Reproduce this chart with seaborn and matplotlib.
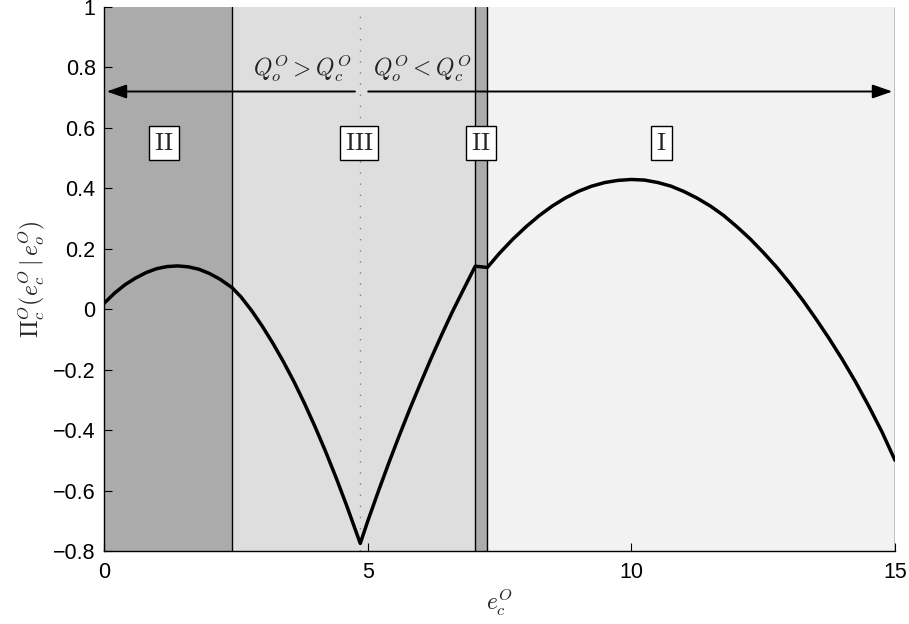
import matplotlib
matplotlib.use("Agg")
import matplotlib.pyplot as plt
import seaborn as sns
import pandas as pd

# ---- data ----
curve_x = [0.0, 0.2, 0.4, 0.6, 0.8, 1.0, 1.2, 1.4, 1.6, 1.8, 2.0, 2.2, 2.43,
           2.6, 2.8, 3.0, 3.2, 3.4, 3.6, 3.8, 4.0, 4.2, 4.4, 4.6, 4.86,
           5.0, 5.2, 5.4, 5.6, 5.8, 6.0, 6.2, 6.4, 6.6, 6.8, 7.04,
           7.27, 7.5, 7.75, 8.0, 8.25, 8.5, 8.75, 9.0, 9.25, 9.5, 9.75,
           10.0, 10.25, 10.5, 10.75, 11.0, 11.25, 11.5, 11.75, 12.0, 12.25,
           12.5, 12.75, 13.0, 13.25, 13.5, 13.75, 14.0, 14.25, 14.5, 14.75, 15.0]
curve_y = [0.019, 0.053, 0.081, 0.103, 0.121, 0.134, 0.141, 0.143, 0.140, 0.132, 0.118, 0.099, 0.071,
           0.040, -0.005, -0.056, -0.112, -0.173, -0.239, -0.311, -0.388, -0.470, -0.557, -0.649, -0.775,
           -0.702, -0.604, -0.509, -0.418, -0.330, -0.246, -0.164, -0.086, -0.011, 0.059, 0.142,
           0.138, 0.185, 0.231, 0.272, 0.309, 0.341, 0.368, 0.390, 0.407, 0.419, 0.426,
           0.429, 0.427, 0.419, 0.407, 0.389, 0.367, 0.341, 0.310, 0.273, 0.233,
           0.188, 0.140, 0.087, 0.030, -0.032, -0.097, -0.166, -0.240, -0.320, -0.405, -0.500]

region_edges = [0.0, 2.43, 7.04, 7.27, 15.0]
region_colors = ["#ababab", "#dedede", "#ababab", "#f2f2f2"]
region_labels = ["II", "III", "II", "I"]
label_x = [1.14, 4.84, 7.15, 10.57]
label_y = 0.55
split_x = 4.86
arrow_y = 0.72
x_ticks = [0, 5, 10, 15]
y_ticks = [-0.8, -0.6, -0.4, -0.2, 0, 0.2, 0.4, 0.6, 0.8, 1]
y_tick_labels = ["\u22120.8", "\u22120.6", "\u22120.4", "\u22120.2", "0",
                 "0.2", "0.4", "0.6", "0.8", "1"]

sns.set_theme(style="ticks")
plt.rcParams['font.family'] = ['Liberation Sans', 'DejaVu Sans']
plt.rcParams['mathtext.fontset'] = 'cm'

fig = plt.figure(figsize=(9.09, 6.24), dpi=100)
ax = fig.add_axes([0.1144, 0.117, 0.8702, 0.872])

for i, c in enumerate(region_colors):
    ax.axvspan(region_edges[i], region_edges[i + 1], color=c, lw=0, zorder=0)
for e in region_edges[1:]:
    ax.axvline(e, color="black", lw=1.0, zorder=1)

ax.axvline(split_x, color="#808080", lw=1.0, linestyle=(0, (1, 7)), zorder=1)

df = pd.DataFrame({"x": curve_x, "y": curve_y})
sns.lineplot(data=df, x="x", y="y", ax=ax, color="black", lw=2.5,
             sort=False, zorder=3)

arrowprops = dict(arrowstyle="-|>,head_length=1.0,head_width=0.35",
                  color="black", lw=1.4, shrinkA=0, shrinkB=0)
ax.annotate("", xy=(0.05, arrow_y), xytext=(split_x - 0.1, arrow_y),
            arrowprops=arrowprops, zorder=4)
ax.annotate("", xy=(14.95, arrow_y), xytext=(split_x + 0.15, arrow_y),
            arrowprops=arrowprops, zorder=4)

ax.text(3.76, 0.797, r"$Q_o^O > Q_c^O$", ha="center", va="center",
        fontsize=17, color="#222222", zorder=4)
ax.text(6.03, 0.797, r"$Q_o^O < Q_c^O$", ha="center", va="center",
        fontsize=17, color="#222222", zorder=4)

for lx, lab in zip(label_x, region_labels):
    ax.text(lx, label_y, r"$\mathrm{%s}$" % lab, ha="center", va="center",
            fontsize=18, zorder=5,
            bbox=dict(boxstyle="square,pad=0.2", fc="white", ec="black", lw=1.0))

ax.set_xlim(0, 15)
ax.set_ylim(-0.8, 1)
ax.set_xticks(x_ticks)
ax.set_xticklabels([str(t) for t in x_ticks])
ax.set_yticks(y_ticks)
ax.set_yticklabels(y_tick_labels)
ax.tick_params(direction="in", length=6, width=0.8, labelsize=15.5,
               colors="black")
ax.tick_params(axis="x", pad=8)
ax.tick_params(axis="y", pad=6)
ax.spines["top"].set_visible(False)
ax.spines["right"].set_visible(False)
for s in ["left", "bottom"]:
    ax.spines[s].set_color("black")
    ax.spines[s].set_linewidth(1.0)
    ax.spines[s].set_zorder(6)

ax.set_xlabel(r"$e_c^O$", fontsize=17, labelpad=2)
ax.set_ylabel(r"$\Pi_c^O(e_c^O\,|\,e_o^O)$", fontsize=17, labelpad=4)

fig.savefig("out.png", dpi=100)
